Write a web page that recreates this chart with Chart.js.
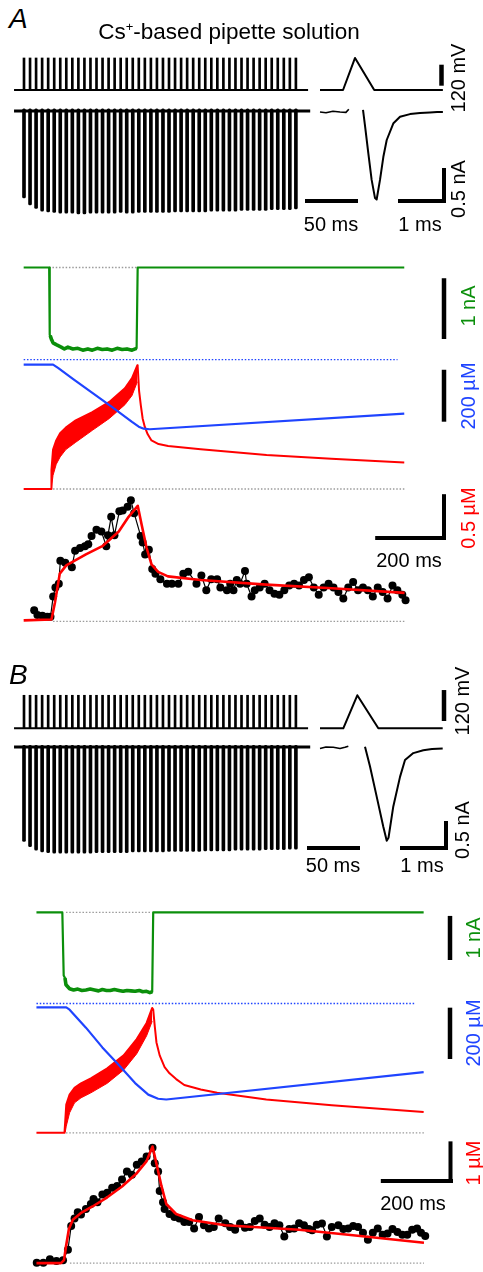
<!DOCTYPE html>
<html>
<head>
<meta charset="utf-8">
<title>Cs+-based pipette solution</title>
<script src="https://cdn.jsdelivr.net/npm/chart.js@4.4.0/dist/chart.umd.min.js"></script>
<style>
  body { margin: 0; background: #fff; }
  #fig { position: relative; width: 483px; height: 1272px; overflow: hidden; font-family: "Liberation Sans", Arial, sans-serif; color: #000; }
  #fig canvas { position: absolute; left: 0; }
  .t { position: absolute; white-space: nowrap; line-height: 1; font-size: 20px; }
  .c { transform: translate(-50%, -50%); }
  .r { transform: translate(-50%, -50%) rotate(-90deg); }
  .p { font-size: 28px; font-style: italic; }
  sup { font-size: 13px; line-height: 0; vertical-align: 8px; }
</style>
</head>
<body>
<div id="fig">
  <canvas id="trainA"></canvas>
  <canvas id="insetA"></canvas>
  <canvas id="lowerA"></canvas>
  <canvas id="trainB"></canvas>
  <canvas id="insetB"></canvas>
  <canvas id="lowerB"></canvas>

  <div class="t p" style="left:9px;top:5px">A</div>
  <div class="t c" style="left:229px;top:32px;font-size:22.5px">Cs<sup>+</sup>-based pipette solution</div>
  <div class="t r" style="left:458px;top:78px">120 mV</div>
  <div class="t r" style="left:458px;top:189px">0.5 nA</div>
  <div class="t c" style="left:331px;top:224px">50 ms</div>
  <div class="t c" style="left:420px;top:224px">1 ms</div>
  <div class="t r" style="left:468px;top:306px;color:#0b8f0b">1 nA</div>
  <div class="t r" style="left:468px;top:396px;color:#1f44ff">200 µM</div>
  <div class="t r" style="left:468px;top:518px;color:#ff0000">0.5 µM</div>
  <div class="t c" style="left:409px;top:560px">200 ms</div>

  <div class="t p" style="left:9px;top:661px">B</div>
  <div class="t r" style="left:462px;top:701px">120 mV</div>
  <div class="t r" style="left:462px;top:830px">0.5 nA</div>
  <div class="t c" style="left:333px;top:865px">50 ms</div>
  <div class="t c" style="left:422px;top:865px">1 ms</div>
  <div class="t r" style="left:473px;top:938px;color:#0b8f0b">1 nA</div>
  <div class="t r" style="left:473px;top:1033px;color:#1f44ff">200 µM</div>
  <div class="t r" style="left:473px;top:1163px;color:#ff0000">1 µM</div>
  <div class="t c" style="left:413px;top:1203px">200 ms</div>
</div>

<script>
// ===== data =====

// pulse train (both panels): time of each command pulse, ms from first pulse
const spikeTimes = [0.0, 5.7, 11.4, 17.1, 22.8, 28.5, 34.2, 39.9, 45.6, 51.3, 57.0, 62.7, 68.4, 74.1, 79.8, 85.5,
  91.2, 96.9, 102.6, 108.3, 114.0, 119.7, 125.4, 131.1, 136.8, 142.5, 148.2, 153.9, 159.6, 165.3, 171.0, 176.7,
  182.4, 188.1, 193.8, 199.5, 205.2, 210.9, 216.6, 222.3, 228.0, 233.7, 239.4, 245.1, 250.8, 256.5]
const trainWindow = [-9.4, 268]
const vPulseA = 183   // mV
const vPulseB = 128
// peak Ca current of each pulse, nA
const iPeakA = [-1.24, -1.34, -1.39, -1.43, -1.44, -1.45, -1.46, -1.46, -1.46, -1.47, -1.47, -1.46, -1.46, -1.46, -1.46, -1.46,
  -1.45, -1.46, -1.46, -1.45, -1.45, -1.45, -1.45, -1.45, -1.45, -1.44, -1.44, -1.44, -1.44, -1.44, -1.44, -1.43,
  -1.43, -1.43, -1.43, -1.43, -1.42, -1.42, -1.42, -1.42, -1.42, -1.41, -1.41, -1.41, -1.41, -1.40]
const iPeakB = [-1.63, -1.72, -1.78, -1.81, -1.82, -1.83, -1.83, -1.83, -1.83, -1.83, -1.83, -1.83, -1.82, -1.82, -1.82, -1.82,
  -1.82, -1.82, -1.81, -1.81, -1.81, -1.81, -1.81, -1.81, -1.80, -1.80, -1.80, -1.80, -1.80, -1.80, -1.79, -1.79,
  -1.79, -1.79, -1.79, -1.78, -1.78, -1.78, -1.78, -1.78, -1.77, -1.77, -1.77, -1.77, -1.76, -1.76]

// single pulse insets (ms, mV / nA)
const pulseT_A = [0, 0.48, 0.73, 1.13, 2.56]
const pulseV_A = [0, 0, 183, 0, 0]
const preT_A = [0, 0.125, 0.27, 0.417, 0.54, 0.6]
const preI_A = [0, -0.01, 0.01, 0, -0.005, 0.04]
const curT_A = [0.896, 0.94, 1.007, 1.076, 1.146, 1.18, 1.25, 1.32, 1.39, 1.53, 1.667, 1.875, 2.083, 2.29, 2.44, 2.56]
const curI_A = [0.03, -0.21, -0.59, -0.97, -1.23, -1.25, -0.97, -0.64, -0.40, -0.16, -0.067, -0.03, -0.014, -0.007, 0, 0]

const pulseT_B = [0, 0.485, 0.777, 1.215, 2.556]
const pulseV_B = [0, 0, 128, 0, 0]
const preT_B = [0, 0.125, 0.277, 0.417, 0.52, 0.59]
const preI_B = [-0.02, 0.005, 0, -0.02, 0, 0.02]
const curT_B = [0.9375, 1.042, 1.181, 1.319, 1.39, 1.427, 1.527, 1.667, 1.771, 1.944, 2.152, 2.333, 2.556]
const curI_B = [0.01, -0.33, -0.85, -1.37, -1.61, -1.56, -1.02, -0.51, -0.22, -0.10, -0.05, -0.03, -0.02]

// panel A, slow time course (ms)
const greenT_A = [0, 72, 73.6, 75, 79, 83, 92, 106, 115, 125, 139, 153, 167, 181, 194, 208, 222, 236, 250, 264, 278, 292, 306, 319, 322, 1075]
const greenI_A = [0, 0, -1.11, -1.12, -1.19, -1.24, -1.27, -1.31, -1.34, -1.31, -1.34, -1.33, -1.36, -1.34, -1.36, -1.33, -1.35, -1.34, -1.36, -1.33, -1.35, -1.34, -1.36, -1.33, 0, 0]
const bufferTotal = 500   // µM, dotted blue line
const blueT_A = [0, 83, 97, 139, 194, 250, 306, 325, 339, 356, 1075]
const blueB_A = [481, 481, 468, 426, 372, 317, 260, 242, 234, 232, 292]
const restT_A = [0, 78]
const restC_A = [0, 0]
const bandT_A = [78, 79, 83, 92, 103, 119, 147, 194, 242, 286, 306, 321]
const bandHi_A = [0, 0.21, 0.43, 0.53, 0.61, 0.67, 0.75, 0.84, 0.95, 1.10, 1.21, 1.35]
const bandLo_A = [0, 0, 0.15, 0.27, 0.35, 0.43, 0.51, 0.64, 0.77, 0.92, 1.02, 1.17]
const decayT_A = [322, 326, 331, 336, 342, 350, 361, 381, 408, 500, 686, 869, 1075]
const decayC_A = [1.34, 1.07, 0.91, 0.77, 0.68, 0.60, 0.53, 0.49, 0.47, 0.435, 0.37, 0.33, 0.29]
const dotsT_A = [29.7, 38.9, 52.8, 66.7, 75.8, 83.3, 89.7, 99.2, 103.6, 117.5, 136.1, 145.3, 159.2, 173.1, 182.5, 191.7,
  205.6, 219.5, 233.4, 238.1, 247.2, 256.4, 270.3, 279.7, 293.6, 302.8, 312.0, 330.6, 336.1, 343.1, 353.6, 363.1,
  372.2, 386.1, 404.7, 418.6, 437.0, 450.9, 464.8, 488.1, 502.0, 515.9, 529.8, 546.4, 555.6, 574.2, 583.4, 592.6,
  602.0, 611.2, 625.1, 629.8, 643.7, 652.8, 666.7, 680.6, 694.5, 708.4, 722.3, 736.2, 750.1, 764.0, 777.8, 791.7,
  805.6, 819.5, 833.4, 847.3, 861.2, 875.1, 889.0, 902.9, 916.7, 930.6, 944.5, 958.4, 972.3, 986.2, 1000.1, 1014.0,
  1027.9, 1041.8, 1055.6, 1069.5, 1078.7]
const dotsC_A = [0.12, 0.07, 0.06, 0.05, 0.05, 0.27, 0.37, 0.41, 0.66, 0.64, 0.59, 0.77, 0.80, 0.82, 0.84, 0.93,
  1.00, 0.98, 0.82, 0.94, 1.14, 0.94, 1.20, 1.21, 1.25, 1.32, 1.18, 0.93, 0.86, 0.73, 0.78, 0.57,
  0.52, 0.46, 0.41, 0.41, 0.41, 0.52, 0.54, 0.41, 0.50, 0.34, 0.46, 0.46, 0.37, 0.34, 0.41, 0.34,
  0.45, 0.41, 0.55, 0.41, 0.27, 0.34, 0.37, 0.41, 0.34, 0.30, 0.29, 0.34, 0.39, 0.41, 0.39, 0.45,
  0.48, 0.37, 0.29, 0.37, 0.41, 0.37, 0.32, 0.25, 0.37, 0.43, 0.34, 0.37, 0.34, 0.27, 0.37, 0.32,
  0.25, 0.39, 0.34, 0.29, 0.23]
const fitT_A = [0, 78.6, 88.1, 102.0, 120.3, 175.8, 222.2, 268.6, 296.4, 322.2, 333.4, 347.3, 361.1, 379.7, 407.5, 500.0, 685.3, 870.3, 1075.9]
const fitC_A = [0.01, 0.02, 0.20, 0.52, 0.61, 0.73, 0.82, 0.98, 1.14, 1.26, 1.05, 0.80, 0.62, 0.54, 0.49, 0.45, 0.40, 0.36, 0.31]

// panel B, slow time course (ms)
const greenT_B = [0, 71.7, 75.5, 79.0, 81.8, 91.8, 103, 114.5, 126, 137.1, 149, 160.8, 172, 182.6, 194, 204.4, 216, 228.1, 240, 250.7,
  262, 273.3, 285, 294.3, 305, 314.2, 320.7, 323.5, 1072.8]
const greenI_B = [0, 0, -1.43, -1.49, -1.64, -1.73, -1.76, -1.74, -1.77, -1.76, -1.74, -1.76, -1.78, -1.75, -1.77, -1.77, -1.75, -1.77, -1.79, -1.77,
  -1.78, -1.79, -1.77, -1.80, -1.79, -1.82, -1.80, 0, 0]
const blueT_B = [0, 82.6, 91.8, 137.1, 182.6, 228.1, 273.3, 309.8, 337.1, 359.7, 1072.8]
const blueB_B = [485, 485, 476, 406, 329, 260, 190, 145, 129, 126, 233]
const restT_B = [0, 73.6]
const restC_B = [0, 0]
const bandT_B = [77.7, 79.8, 82.6, 91.8, 105.5, 123.4, 150.7, 196.2, 241.7, 277.9, 305.2, 320.7]
const bandHi_B = [0, 0.29, 0.68, 0.92, 1.08, 1.19, 1.31, 1.55, 1.86, 2.25, 2.64, 3.00]
const bandLo_B = [0, 0.02, 0.16, 0.48, 0.72, 0.84, 0.96, 1.19, 1.51, 1.90, 2.33, 2.68]
const decayT_B = [323.5, 327.8, 332.5, 341.4, 355.1, 368.7, 387.0, 409.6, 455.1, 500.6, 636.8, 818.3, 1072.8]
const decayC_B = [2.96, 2.56, 2.17, 1.86, 1.58, 1.43, 1.29, 1.15, 1.04, 0.96, 0.80, 0.66, 0.50]
const dotsT_B = [0.8, 19.1, 37.3, 55.3, 73.6, 87.2, 96.2, 105.5, 114.5, 123.4, 137.1, 150.7, 158.1, 169.0, 182.6, 196.2,
  209.8, 223.5, 237.1, 250.7, 264.3, 278.0, 291.6, 305.2, 321.6, 327.8, 337.1, 341.4, 350.7, 355.1, 368.7, 382.3,
  395.9, 409.6, 423.2, 436.8, 450.4, 464.1, 477.7, 491.3, 504.9, 523.2, 536.8, 550.5, 564.1, 577.7, 591.3, 605.0,
  618.6, 632.2, 645.8, 659.5, 673.1, 686.7, 700.3, 714.0, 727.6, 741.2, 754.8, 763.8, 776.6, 791.1, 804.7, 818.3,
  836.6, 850.2, 863.8, 877.5, 891.1, 904.7, 918.3, 932.0, 945.6, 959.2, 972.8, 986.5, 1000.1, 1013.7, 1027.3, 1041.0,
  1054.6, 1065.5, 1077.2]
const dotsC_B = [0.01, 0.01, 0.09, 0.05, 0.07, 0.32, 0.89, 1.07, 1.22, 1.17, 1.30, 1.42, 1.54, 1.46, 1.65, 1.69,
  1.81, 1.85, 2.01, 2.20, 2.12, 2.36, 2.44, 2.56, 2.77, 2.40, 2.20, 1.73, 1.46, 1.30, 1.18, 1.11,
  1.07, 0.99, 0.99, 0.83, 1.11, 0.91, 0.83, 0.87, 1.07, 0.96, 0.87, 0.80, 0.95, 0.85, 0.87, 1.01,
  1.07, 0.92, 0.87, 0.96, 0.91, 0.64, 0.82, 0.83, 0.96, 0.91, 0.82, 0.79, 0.92, 0.95, 0.64, 0.87,
  0.91, 0.82, 0.83, 0.89, 0.87, 0.73, 0.56, 0.73, 0.83, 0.68, 0.71, 0.82, 0.75, 0.68, 0.68, 0.80,
  0.83, 0.73, 0.65]
const fitT_B = [0, 68.1, 76.3, 81.8, 89.9, 100.8, 122.6, 155.3, 196.2, 237.1, 278.0, 305.2, 321.6, 337.1, 346.1, 359.7, 386.9, 432.5, 523.2, 727.6, 863.8, 1073.7]
const fitC_B = [0, 0, 0.07, 0.40, 0.82, 1.04, 1.20, 1.36, 1.58, 1.84, 2.16, 2.45, 2.80, 2.21, 1.86, 1.42, 1.18, 1.03, 0.91, 0.80, 0.68, 0.49]

// ===== drawing =====
const W = 483
const GREEN = '#0b8f0b', BLUE = '#1f44ff', RED = '#ff0000', GREY = '#9b9b9b'

function xy(xs, ys) { return xs.map((x, i) => ({ x: x, y: ys[i] })) }

function line(data, axis, color, width, more) {
    return Object.assign({ type: 'line', data: data, yAxisID: axis, borderColor: color, borderWidth: width,
        pointRadius: 0, fill: false, tension: 0, clip: false, borderJoinStyle: 'round' }, more || {})
}

function dotted(t1, t2, v, axis, color) {
    return line(xy([t1, t2], [v, v]), axis, color, 1.3, { borderDash: [1.5, 1.8] })
}

function spikes(times, lo, hi, axis, width, radius) {
    return { type: 'bar', yAxisID: axis, backgroundColor: '#000', borderWidth: 0, barThickness: width,
        grouped: false, borderRadius: radius || 0, borderSkipped: false, clip: false,
        data: times.map((t, i) => ({ x: t, y: [lo, Array.isArray(hi) ? hi[i] : hi] })) }
}

function dots(data, axis) {
    return line(data, axis, '#000', 1.2, { pointRadius: 4, pointBackgroundColor: '#000', pointBorderWidth: 0 })
}

// scale bars: length comes from the chart's own scale, anchor is a page position
function scaleBars(top, bars) {
    return {
        id: 'scalebars',
        afterDatasetsDraw(chart) {
            const ctx = chart.ctx
            ctx.save()
            ctx.strokeStyle = '#000'
            ctx.lineCap = 'butt'
            for (const b of bars) {
                const s = chart.scales[b.axis]
                const len = Math.abs(s.getPixelForValue(b.len) - s.getPixelForValue(0))
                const y = b.y - top
                ctx.lineWidth = b.w || 4
                ctx.beginPath()
                if (b.axis === 'x') { ctx.moveTo(b.x - len, y); ctx.lineTo(b.x, y) }
                else { ctx.moveTo(b.x, y); ctx.lineTo(b.x, y - len) }
                ctx.stroke()
            }
            ctx.restore()
        }
    }
}

// cfg.x = [page x of t=0, px per ms]; cfg.axes[id] = [page y of ref value, px per unit, ref value]
function makeChart(cfg) {
    const cv = document.getElementById(cfg.id)
    cv.width = W
    cv.height = cfg.height
    cv.style.top = cfg.top + 'px'
    const scales = {
        x: { type: 'linear', display: false, offset: false, min: -cfg.x[0] / cfg.x[1], max: (W - cfg.x[0]) / cfg.x[1] }
    }
    for (const k in cfg.axes) {
        const a = cfg.axes[k], ref = a[2] || 0
        scales[k] = { type: 'linear', display: false,
            min: ref - (cfg.top + cfg.height - a[0]) / a[1],
            max: ref + (a[0] - cfg.top) / a[1] }
    }
    return new Chart(cv.getContext('2d'), {
        type: 'line',
        data: { datasets: cfg.sets },
        options: {
            responsive: false, animation: false, devicePixelRatio: 1, events: [],
            layout: { padding: 0 },
            plugins: { legend: { display: false }, tooltip: { enabled: false } },
            scales: scales
        },
        plugins: [scaleBars(cfg.top, cfg.bars)]
    })
}

function trainSets(vPulse, iPeak) {
    return [
        line(xy(trainWindow, [0, 0]), 'yV', '#000', 2),
        spikes(spikeTimes, 0, vPulse, 'yV', 2),
        line(xy([trainWindow[0], trainWindow[1] + 2], [0, 0]), 'yI', '#000', 3),
        spikes(spikeTimes, 0.03, iPeak, 'yI', 3, 1.5)
    ]
}

function insetSets(pT, pV, preT, preI, curT, curI) {
    return [
        line(xy(pT, pV), 'yV', '#000', 2),
        line(xy(preT, preI), 'yI', '#000', 1.6),
        line(xy(curT, curI), 'yI', '#000', 2)
    ]
}

function lowerSets(p) {
    // the noisy part of the green current during the train is drawn a little heavier
    const n = p.greenT.length
    return [
        line(xy(p.blueT, p.blueB), 'yB', BLUE, 2.2),
        line(xy(p.fitT, p.fitC), 'yD', RED, 2.6),
        dots(xy(p.dotsT, p.dotsC), 'yD'),
        line(xy(p.restT.concat(p.bandT, p.decayT), p.restC.concat(p.bandHi, p.decayC)), 'yC', RED, 2),
        line(xy(p.bandT, p.bandHi), 'yC', RED, 0),
        line(xy(p.bandT, p.bandLo), 'yC', RED, 1, { fill: '-1', backgroundColor: RED }),
        line(xy(p.greenT, p.greenI), 'yG', GREEN, 2.2),
        line(xy(p.greenT.slice(3, n - 2), p.greenI.slice(3, n - 2)), 'yG', GREEN, 3.6),
        dotted(0, p.blueEnd, bufferTotal, 'yB', BLUE),
        dotted(p.greenRef[0], p.greenRef[1], 0, 'yG', GREY),
        dotted(p.caRef[0], p.caRef[1], 0, 'yC', GREY),
        dotted(p.dotRef[0], p.dotRef[1], 0, 'yD', GREY)
    ]
}

// ---- panel A ----
makeChart({ id: 'trainA', top: 40, height: 200, x: [24, 1.06], axes: { yV: [90, 0.175], yI: [111, 70] },
    sets: trainSets(vPulseA, iPeakA),
    bars: [{ axis: 'x', len: 50, x: 358, y: 201 }] })

makeChart({ id: 'insetA', top: 40, height: 200, x: [320, 48], axes: { yV: [90, 0.175], yI: [112, 70] },
    sets: insetSets(pulseT_A, pulseV_A, preT_A, preI_A, curT_A, curI_A),
    bars: [{ axis: 'yV', len: 120, x: 441.5, y: 85.7, w: 4.5 }, { axis: 'x', len: 1, x: 446, y: 201 },
        { axis: 'yI', len: 0.5, x: 444, y: 203 }] })

makeChart({ id: 'lowerA', top: 240, height: 400, x: [20, 0.36],
    axes: { yG: [264, 62], yB: [358, 0.265, bufferTotal], yC: [490, 93.5], yD: [625, 93.5] },
    sets: lowerSets({ blueT: blueT_A, blueB: blueB_A, fitT: fitT_A, fitC: fitC_A, dotsT: dotsT_A, dotsC: dotsC_A,
        restT: restT_A, restC: restC_A, bandT: bandT_A, bandHi: bandHi_A, bandLo: bandLo_A, decayT: decayT_A, decayC: decayC_A,
        greenT: greenT_A, greenI: greenI_A, blueEnd: 1056, greenRef: [72, 322], caRef: [83, 1078], dotRef: [83, 1078] }),
    bars: [{ axis: 'yG', len: 1, x: 444, y: 339, w: 4.5 }, { axis: 'yB', len: 200, x: 444, y: 421.7, w: 4.5 },
        { axis: 'yD', len: 0.5, x: 444, y: 540 }, { axis: 'x', len: 200, x: 446, y: 538 }] })

// ---- panel B ----
makeChart({ id: 'trainB', top: 650, height: 230, x: [24, 1.06], axes: { yV: [728.3, 0.258], yI: [747, 58] },
    sets: trainSets(vPulseB, iPeakB),
    bars: [{ axis: 'x', len: 50, x: 360, y: 848 }] })

makeChart({ id: 'insetB', top: 650, height: 230, x: [320, 48], axes: { yV: [728.3, 0.258], yI: [747.3, 58] },
    sets: insetSets(pulseT_B, pulseV_B, preT_B, preI_B, curT_B, curI_B),
    bars: [{ axis: 'yV', len: 120, x: 444, y: 721, w: 4.5 }, { axis: 'x', len: 1, x: 448, y: 848 },
        { axis: 'yI', len: 0.5, x: 446, y: 850 }] })

makeChart({ id: 'lowerB', top: 880, height: 392, x: [33, 0.367],
    axes: { yG: [909, 45], yB: [1002, 0.262, bufferTotal], yC: [1134, 42.5], yD: [1267, 42.5] },
    sets: lowerSets({ blueT: blueT_B, blueB: blueB_B, fitT: fitT_B, fitC: fitC_B, dotsT: dotsT_B, dotsC: dotsC_B,
        restT: restT_B, restC: restC_B, bandT: bandT_B, bandHi: bandHi_B, bandLo: bandLo_B, decayT: decayT_B, decayC: decayC_B,
        greenT: greenT_B, greenI: greenI_B, blueEnd: 1049, greenRef: [81.8, 318], caRef: [81.8, 1073.7], dotRef: [92.7, 1073.7] }),
    bars: [{ axis: 'yG', len: 1, x: 450, y: 960, w: 4.5 }, { axis: 'yB', len: 200, x: 450, y: 1059, w: 4.5 },
        { axis: 'yD', len: 1, x: 450.5, y: 1183 }, { axis: 'x', len: 200, x: 453, y: 1181 }] })
</script>
</body>
</html>
